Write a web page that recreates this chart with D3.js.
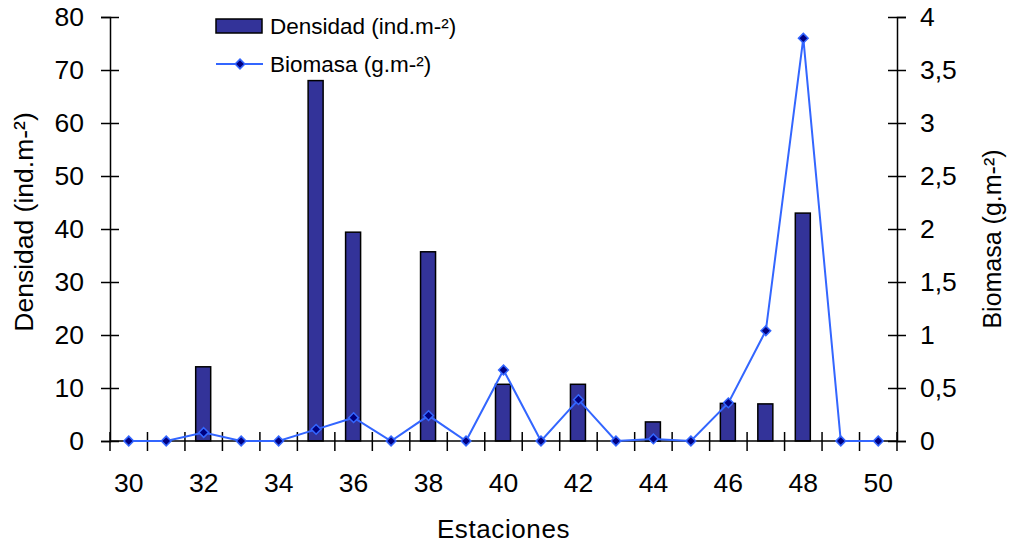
<!DOCTYPE html>
<html><head><meta charset="utf-8">
<script src="https://cdn.jsdelivr.net/npm/d3@7"></script>
<style>body{margin:0;background:#fff}svg{display:block}text{font-family:"Liberation Sans",Arial,sans-serif;fill:#000}</style>
</head><body><div id="chart"></div>
<script>
const stations = [30,31,32,33,34,35,36,37,38,39,40,41,42,43,44,45,46,47,48,49,50];
const densidad = [0,0,14,0,0,68,39.4,0,35.7,0,10.7,0,10.7,0,3.6,0,7.1,7,43,0,0];
const biomasa  = [0,0,0.08,0,0,0.11,0.22,0,0.24,0,0.67,0,0.39,0,0.02,0,0.36,1.04,3.8,0,0];
const leftTicks = [0,10,20,30,40,50,60,70,80];
const rightTicks = [0,0.5,1,1.5,2,2.5,3,3.5,4];
const xLabelStations = [30,32,34,36,38,40,42,44,46,48,50];

const W=1018,H=546;
const FS=26.5;
const svg=d3.select("#chart").append("svg").attr("width",W).attr("height",H);
const x=d3.scaleBand().domain(stations).range([110,897]).padding(0);
const yL=d3.scaleLinear().domain([0,80]).range([441,17]);
const yR=d3.scaleLinear().domain([0,4]).range([441,17]);
const barW=15;

// bars
svg.append("g").selectAll("rect").data(stations).join("rect")
  .attr("x",(d)=>x(d)+x.bandwidth()/2-barW/2-0.5)
  .attr("y",(d,i)=>yL(densidad[i]))
  .attr("width",barW)
  .attr("height",(d,i)=>yL(0)-yL(densidad[i]))
  .attr("fill","#333399").attr("stroke","#000").attr("stroke-width",1.5);

// left axis
const gL=svg.append("g").attr("transform","translate(110,0)")
  .call(d3.axisLeft(yL).tickValues(leftTicks).tickSize(9).tickFormat(d3.format("d")));
gL.select(".domain").attr("stroke","#000").attr("stroke-width",1.5);
gL.selectAll(".tick line").attr("x1",-9).attr("x2",9).attr("stroke-width",1.5);
gL.selectAll(".tick text").attr("x",-26).attr("font-size",FS).attr("font-family","Liberation Sans, Arial");

// right axis
const fmtR=d=>String(d).replace(".",",");
const gR=svg.append("g").attr("transform","translate(897,0)")
  .call(d3.axisRight(yR).tickValues(rightTicks).tickSize(9).tickFormat(fmtR));
gR.select(".domain").attr("stroke","#000").attr("stroke-width",1.5);
gR.selectAll(".tick line").attr("x1",-9).attr("x2",9).attr("stroke-width",1.5);
gR.selectAll(".tick text").attr("x",23).attr("font-size",FS).attr("font-family","Liberation Sans, Arial");

// bottom axis
const gB=svg.append("g").attr("transform","translate(0,441)")
  .call(d3.axisBottom(x).tickSize(0).tickFormat(d=>xLabelStations.includes(d)?d:""));
gB.select(".domain").remove();
gB.selectAll(".tick text").attr("y",51).attr("dy",0).attr("font-size",FS).attr("font-family","Liberation Sans, Arial");
svg.append("line").attr("x1",x.range()[0]).attr("x2",x.range()[1]).attr("y1",441).attr("y2",441)
  .attr("stroke","#000").attr("stroke-width",1.5);
const bounds=stations.map(d=>x(d)).concat([x.range()[1]]);
svg.append("g").selectAll("line").data(bounds).join("line")
  .attr("x1",d=>d).attr("x2",d=>d).attr("y1",432).attr("y2",451)
  .attr("stroke","#000").attr("stroke-width",1.5);

// biomass line
const lineColor="#3366ff";
const line=d3.line().x((d,i)=>x(stations[i])+x.bandwidth()/2).y(d=>yR(d));
svg.append("path").datum(biomasa).attr("d",line).attr("fill","none")
  .attr("stroke",lineColor).attr("stroke-width",2);
const diamond=d3.symbol().type(d3.symbolDiamond2).size(60);
svg.append("g").selectAll("path").data(biomasa).join("path")
  .attr("d",diamond)
  .attr("transform",(d,i)=>`translate(${x(stations[i])+x.bandwidth()/2},${yR(d)})`)
  .attr("fill","#000080").attr("stroke",lineColor).attr("stroke-width",1.5);

// titles
svg.append("text").attr("transform","translate(33,222) rotate(-90)").attr("text-anchor","middle")
  .attr("font-size",26.5).text("Densidad (ind.m-²)");
svg.append("text").attr("transform","translate(1001,239) rotate(-90)").attr("text-anchor","middle")
  .attr("font-size",25).text("Biomasa (g.m-²)");
svg.append("text").attr("x",(x.range()[0]+x.range()[1])/2).attr("y",538).attr("text-anchor","middle")
  .attr("font-size",26).attr("letter-spacing",0.6).text("Estaciones");

// legend
const lg=svg.append("g");
lg.append("rect").attr("x",216).attr("y",19).attr("width",46).attr("height",14)
  .attr("fill","#333399").attr("stroke","#000").attr("stroke-width",1.5);
lg.append("text").attr("x",270).attr("y",34).attr("font-size",22.5).text("Densidad (ind.m-²)");
lg.append("line").attr("x1",216).attr("x2",263).attr("y1",64).attr("y2",64)
  .attr("stroke",lineColor).attr("stroke-width",2);
lg.append("path").attr("d",diamond).attr("transform","translate(240,64)")
  .attr("fill","#000080").attr("stroke",lineColor).attr("stroke-width",1.5);
lg.append("text").attr("x",270).attr("y",72).attr("font-size",22.5).text("Biomasa (g.m-²)");
</script></body></html>
